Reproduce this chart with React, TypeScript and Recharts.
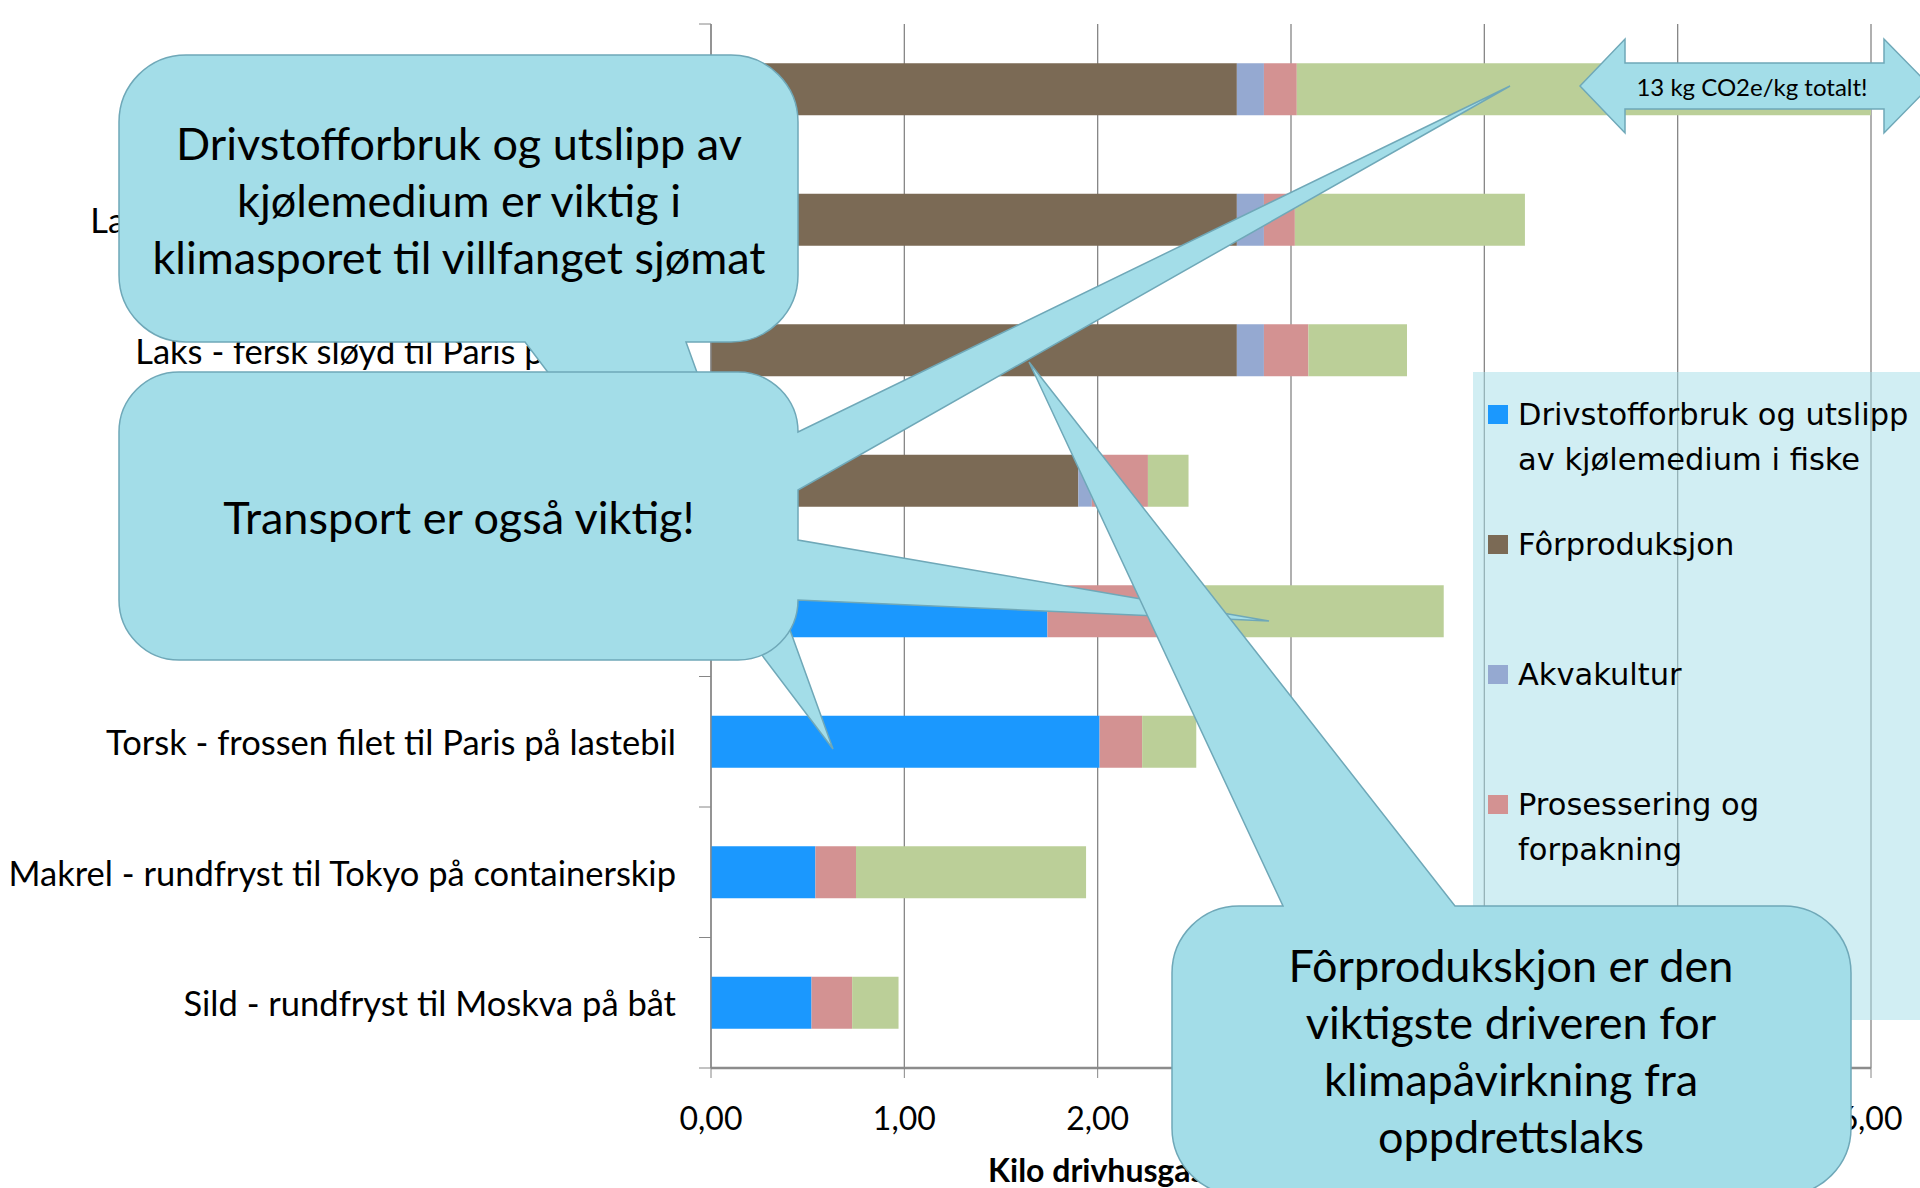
import React from "react";
import { BarChart, Bar, XAxis, YAxis, CartesianGrid, Legend } from "recharts";

const categories = [
  "Laks - fersk sløyd til Tokyo på fly",
  "Laks - fersk sløyd til Moskva på lastebil",
  "Laks - fersk sløyd til Paris på lastebil",
  "Laks - fersk sløyd til Oslo på lastebil",
  "Torsk - fersk filet til Paris på fly",
  "Torsk - frossen filet til Paris på lastebil",
  "Makrel - rundfryst til Tokyo på containerskip",
  "Sild - rundfryst til Moskva på båt",
];

const drivstoff = [0, 0, 0, 0, 1.74, 2.01, 0.54, 0.52];
const forproduksjon = [2.72, 2.72, 2.72, 1.9, 0, 0, 0, 0];
const akvakultur = [0.14, 0.14, 0.14, 0.07, 0, 0, 0, 0];
const prosessering = [0.17, 0.16, 0.23, 0.29, 0.65, 0.22, 0.21, 0.21];
const transport = [9.97, 1.19, 0.51, 0.21, 1.4, 0.28, 1.19, 0.24];

const seriesNames = [
  "Drivstofforbruk og utslipp av kjølemedium i fiske",
  "Fôrproduksjon",
  "Akvakultur",
  "Prosessering og forpakning",
  "Transport",
];
const seriesColors = ["#1b98fe", "#7b6a55", "#95a9d1", "#d39292", "#bbcf98"];
const xTicks = [0, 1, 2, 3, 4, 5, 6];

const data = categories.map((name, i) => ({
  name,
  drivstoff: drivstoff[i],
  forproduksjon: forproduksjon[i],
  akvakultur: akvakultur[i],
  prosessering: prosessering[i],
  transport: transport[i],
}));

const FONT = "Lato, 'Open Sans', sans-serif";
const LEGEND_FONT = "'DejaVu Sans', sans-serif";
const GRID = "#868686";
const BAND = (1188 - 24 - 120) / categories.length;

function CategoryTick(props: any) {
  const { x, y, payload, index } = props;
  return (
    <g>
      <line x1={x - 12} x2={x} y1={y - BAND / 2} y2={y - BAND / 2} stroke={GRID} />
      {index === categories.length - 1 && (
        <line x1={x - 12} x2={x} y1={y + BAND / 2} y2={y + BAND / 2} stroke={GRID} />
      )}
      <text x={x - 35} y={y} textAnchor="end" dominantBaseline="central" fontSize={34.5} fontFamily={FONT} fill="#000">
        {payload.value}
      </text>
    </g>
  );
}

function ValueTick(props: any) {
  const { x, y, payload } = props;
  return (
    <text x={x} y={y + 39} textAnchor="middle" dominantBaseline="central" fontSize={32} fontFamily={FONT} fill="#000">
      {payload.value.toFixed(2).replace(".", ",")}
    </text>
  );
}

function AxisTitle(props: any) {
  const { viewBox } = props;
  return (
    <text x={viewBox.x + viewBox.width / 2} y={1169} textAnchor="middle" dominantBaseline="central" fontSize={32} fontWeight="bold" fontFamily={FONT} fill="#000">
      Kilo drivhusgasser per kilo spiselig produkt
    </text>
  );
}

function LegendBox(props: any) {
  const items = [...(props.payload || [])].sort(
    (a: any, b: any) => seriesNames.indexOf(a.value) - seriesNames.indexOf(b.value)
  );
  return (
    <div style={{ position: "relative", width: "100%", height: "100%" }}>
      {items.map((it: any, i: number) => (
        <div key={it.value} style={{ position: "absolute", left: 15, top: 20 + i * 130, width: 425 }}>
          <div style={{ position: "absolute", left: 0, top: 13, width: 20, height: 19, background: it.color }} />
          <div style={{ marginLeft: 30, width: 395, fontFamily: LEGEND_FONT, fontSize: 30.5, lineHeight: "45px", color: "#000" }}>
            {it.value}
          </div>
        </div>
      ))}
    </div>
  );
}

const stroke = "#6fa8b8";
const fill = "#a3dde8";

function Callouts() {
  return (
    <svg width={1920} height={1188} style={{ position: "absolute", left: 0, top: 0, zIndex: 10, pointerEvents: "none" }}>
      {/* double arrow */}
      <path d="M1580,86 L1625,39 V63 H1884 V39 L1930,86 L1884,133 V109 H1625 V133 Z" fill={fill} stroke={stroke} strokeWidth={1.5} />
      <text x={1752} y={86} textAnchor="middle" dominantBaseline="central" fontSize={24} fontFamily={FONT} fill="#000">
        13 kg CO2e/kg totalt!
      </text>
      {/* callout A */}
      <path
        d="M186,55 H731 A67,67 0 0 1 798,122 V275 A67,67 0 0 1 731,342 H686 L833,749 L525,342 H186 A67,67 0 0 1 119,275 V122 A67,67 0 0 1 186,55 Z"
        fill={fill}
        stroke={stroke}
        strokeWidth={1.5}
      />
      {["Drivstofforbruk og utslipp av", "kjølemedium er viktig i", "klimasporet til villfanget sjømat"].map((t, i) => (
        <text key={t} x={459} y={143 + i * 57} textAnchor="middle" dominantBaseline="central" fontSize={45} fontFamily={FONT} fill="#000">
          {t}
        </text>
      ))}
      {/* callout B */}
      <path
        d="M179,372 H738 A60,60 0 0 1 798,432 L1510,86 L798,490 V540 L1269,621 L798,600 A60,60 0 0 1 738,660 H179 A60,60 0 0 1 119,600 V432 A60,60 0 0 1 179,372 Z"
        fill={fill}
        stroke={stroke}
        strokeWidth={1.5}
      />
      <text x={459} y={517} textAnchor="middle" dominantBaseline="central" fontSize={45} fontFamily={FONT} fill="#000">
        Transport er også viktig!
      </text>
      {/* callout C */}
      <path
        d="M1239,906 H1283 L1029,362 L1455,906 H1784 A67,67 0 0 1 1851,973 V1128 A67,67 0 0 1 1784,1195 H1239 A67,67 0 0 1 1172,1128 V973 A67,67 0 0 1 1239,906 Z"
        fill={fill}
        stroke={stroke}
        strokeWidth={1.5}
      />
      {["Fôrprodukskjon er den", "viktigste driveren for", "klimapåvirkning fra", "oppdrettslaks"].map((t, i) => (
        <text key={t} x={1511} y={965 + i * 57} textAnchor="middle" dominantBaseline="central" fontSize={45} fontFamily={FONT} fill="#000">
          {t}
        </text>
      ))}
    </svg>
  );
}

export default function App() {
  return (
    <div style={{ position: "absolute", left: 0, top: 0, width: 1920, height: 1188, background: "#fff", overflow: "hidden" }}>
      <BarChart
        width={1920}
        height={1188}
        data={data}
        layout="vertical"
        margin={{ top: 24, right: 49, bottom: 60, left: 0 }}
        barCategoryGap="30%"
      >
        <CartesianGrid vertical horizontal={false} stroke={GRID} strokeWidth={1.3} />
        <XAxis
          type="number"
          domain={[0, 6]}
          ticks={xTicks}
          allowDataOverflow
          height={60}
          axisLine={{ stroke: "#8c8c8c", strokeWidth: 2.5 }}
          tickLine={{ stroke: GRID }}
          tickSize={10}
          tickMargin={0}
          tick={<ValueTick />}
          label={<AxisTitle />}
        />
        <YAxis
          type="category"
          dataKey="name"
          width={711}
          axisLine={{ stroke: GRID, strokeWidth: 1.3 }}
          tickLine={false}
          tickSize={0}
          tickMargin={0}
          tick={<CategoryTick />}
          interval={0}
        />
        <Legend
          layout="vertical"
          align="center"
          verticalAlign="middle"
          content={<LegendBox />}
          wrapperStyle={{ left: 1473, top: 372, width: 447, height: 648, background: "rgba(163,221,232,0.5)" }}
        />
        <Bar dataKey="drivstoff" name={seriesNames[0]} stackId="a" fill={seriesColors[0]} isAnimationActive={false} />
        <Bar dataKey="forproduksjon" name={seriesNames[1]} stackId="a" fill={seriesColors[1]} isAnimationActive={false} />
        <Bar dataKey="akvakultur" name={seriesNames[2]} stackId="a" fill={seriesColors[2]} isAnimationActive={false} />
        <Bar dataKey="prosessering" name={seriesNames[3]} stackId="a" fill={seriesColors[3]} isAnimationActive={false} />
        <Bar dataKey="transport" name={seriesNames[4]} stackId="a" fill={seriesColors[4]} isAnimationActive={false} />
      </BarChart>
      <Callouts />
    </div>
  );
}
